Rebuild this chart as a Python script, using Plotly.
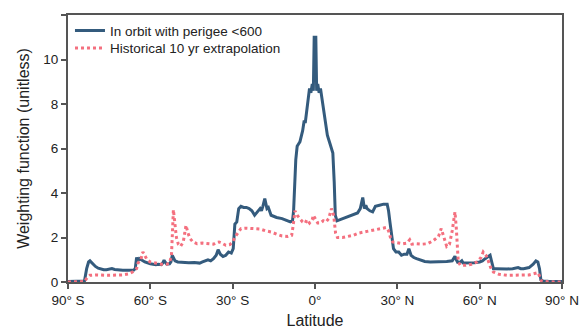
import plotly.graph_objects as go

# Blue: in orbit with perigee < 600
lat_orbit = [-90, -84.5, -84, -83.2, -82.5, -82, -81, -80, -79, -78, -77, -76, -75, -74.5, -74, -73, -72, -70, -68, -66,
             -65.5, -65, -64.5, -64, -63, -62, -60, -58, -57, -56, -55.5, -55, -54.5, -54, -53, -52.5, -52, -51.5, -51, -50,
             -48, -46, -44, -42, -41, -40, -39, -38, -37, -36, -35.3, -34.5, -33.5, -32.5, -31.5, -30.5, -29.8, -29.2, -28.5, -27.8,
             -27, -26, -25, -24, -23, -22, -21.5, -21, -20, -19.5, -19, -18.3, -17.5, -17, -16, -15, -14, -12, -10, -9,
             -8.2, -7.8, -7, -6.5, -6, -5.5, -4.5, -4, -3.5, -2.5, -2, -1.5, -1, -0.6, -0.3, 0.3, 0.6, 1, 1.5, 2,
             2.5, 3.5, 4, 4.5, 5.5, 6, 6.5, 7, 7.4, 8, 9, 10, 12, 14, 15.5, 16.5, 17.4, 18, 18.5, 19,
             20, 21, 22, 23.5, 25, 26.3, 26.8, 27.3, 28, 28.6, 29.5, 30.5, 31.5, 32.5, 33.5, 34.2, 35, 36, 37, 38,
             40, 42, 44, 46, 48, 50, 51, 51.5, 52, 53, 53.5, 54, 55, 56, 57, 58, 60, 61, 62, 63,
             63.8, 64.5, 65, 66, 68, 70, 72, 73, 74, 75, 76, 78, 79.5, 80.5, 81.2, 81.8, 82.3, 83, 85, 90]
val_orbit = [0.02, 0.03, 0.05, 0.6, 0.9, 0.95, 0.8, 0.7, 0.62, 0.58, 0.55, 0.55, 0.58, 0.62, 0.6, 0.56, 0.54, 0.53, 0.53, 0.54,
             0.6, 1.1, 0.95, 1.05, 0.98, 0.9, 0.82, 0.78, 0.8, 0.78, 0.85, 0.98, 0.88, 0.8, 0.82, 0.9, 1.2, 1.1, 0.95, 0.9,
             0.88, 0.87, 0.88, 0.85, 0.9, 0.95, 1.0, 0.95, 1.05, 1.2, 1.45, 1.25, 1.15, 1.2, 1.35, 1.3, 1.5, 2.6, 2.7, 3.3,
             3.4, 3.35, 3.35, 3.3, 3.2, 3.0, 3.1, 3.15, 3.3, 3.2, 3.4, 3.75, 3.3, 3.35, 3.0, 2.95, 2.9, 2.85, 2.75, 2.7,
             2.75, 3.2, 5.5, 6.1, 6.2, 6.3, 6.8, 7.2, 7.2, 8.2, 8.7, 8.5, 8.9, 8.6, 11.0, 11.0, 8.6, 8.9, 8.5, 8.7,
             8.3, 7.3, 7.1, 6.6, 6.2, 6.0, 5.8, 4.5, 3.0, 2.75, 2.8, 2.85, 2.95, 3.05, 3.1, 3.3, 3.8, 3.3, 3.45, 3.3,
             3.2, 3.15, 3.4, 3.45, 3.5, 3.5, 3.2, 2.7, 2.0, 1.5, 1.35, 1.35, 1.2, 1.25, 1.25, 1.5, 1.2, 1.1, 1.05, 1.0,
             0.92, 0.9, 0.9, 0.92, 0.92, 0.95, 1.15, 1.0, 0.88, 0.9, 0.95, 0.85, 0.85, 0.88, 0.85, 0.87, 0.9, 0.95, 1.05, 1.15,
             1.2, 0.85, 0.6, 0.6, 0.58, 0.58, 0.6, 0.62, 0.65, 0.6, 0.6, 0.65, 0.8, 0.95, 0.9, 0.6, 0.1, 0.05, 0.03, 0.02]

# Red dotted: historical 10 yr extrapolation
lat_hist = [-90, -84, -83, -82, -80, -75, -70, -68, -66.5, -65, -64.5, -63.5, -62.7, -62, -61.2, -60, -58, -56, -54, -53,
            -52.3, -52, -51.6, -51.2, -50.5, -49.8, -49, -48, -47, -46.3, -45.5, -44.5, -43, -41, -39, -37, -36, -35, -34, -32.5,
            -31, -30, -29, -28, -27, -25, -22, -20, -18, -16, -14, -12, -10, -8.5, -8, -7.3, -6.5, -5.5, -4.5, -3.5,
            -3, -2, -1, -0.6, 0, 1, 2, 3, 4, 5, 6, 6.8, 7.5, 8.2, 10, 12, 14, 16, 18, 20,
            22, 24, 26, 26.8, 27.5, 28.3, 30, 32, 33.5, 34.5, 35.3, 37, 39, 41, 43, 45, 46, 47, 48, 49,
            50, 51, 51.5, 52.2, 53, 55, 57, 59, 60.5, 61.3, 62.3, 63, 64, 65, 67, 70, 74, 78, 80, 81.3,
            82, 82.6, 85, 90]
val_hist = [0.0, 0.02, 0.2, 0.3, 0.32, 0.3, 0.32, 0.36, 0.45, 0.6, 0.85, 1.0, 1.35, 1.2, 1.0, 0.9, 0.85, 0.8, 0.8, 0.85,
            1.2, 2.3, 3.25, 2.8, 2.0, 1.7, 1.6, 1.8, 2.55, 2.2, 1.95, 1.8, 1.72, 1.75, 1.72, 1.7, 1.78, 1.8, 1.75, 1.65,
            1.68, 1.8, 2.05, 2.25, 2.4, 2.42, 2.4, 2.38, 2.3, 2.25, 2.15, 2.07, 2.05, 2.1, 2.5, 3.2, 3.0, 2.85, 2.7, 2.65,
            2.8, 2.65, 2.8, 3.0, 2.85, 2.65, 2.65, 2.75, 2.7, 2.85, 3.3, 3.0, 2.2, 2.0, 2.0, 2.05, 2.1, 2.2, 2.25, 2.3,
            2.38, 2.4, 2.45, 2.3, 2.0, 1.8, 1.75, 1.72, 1.75, 1.9, 1.7, 1.72, 1.7, 1.72, 1.85, 2.05, 2.4, 2.0, 1.6, 1.7,
            2.3, 3.15, 2.4, 0.9, 0.75, 0.75, 0.8, 0.9, 1.1, 1.35, 1.2, 1.0, 0.65, 0.45, 0.35, 0.3, 0.32, 0.32, 0.38, 0.42,
            0.2, 0.03, 0.01, 0.0]

tick_vals = [-90, -60, -30, 0, 30, 60, 90]
tick_text = ["90° S", "60° S", "30° S", "0°", "30° N", "60° N", "90° N"]
y_ticks = [0, 2, 4, 6, 8, 10, 12]

font = "Liberation Sans, Arial, sans-serif"

fig = go.Figure()
fig.add_trace(go.Scatter(x=lat_orbit, y=val_orbit, mode="lines", name="In orbit with perigee <600",
                         line=dict(color="#345b7d", width=3), legend="legend"))
fig.add_trace(go.Scatter(x=lat_hist, y=val_hist, mode="lines", name="Historical 10 yr extrapolation",
                         line=dict(color="#f4707f", width=3, dash="dot"), legend="legend2"))

leg_common = dict(xanchor="left", yanchor="top", bgcolor="rgba(0,0,0,0)", font=dict(size=13.5), itemwidth=30)

# The page body has an 8px default margin, so the figure is 8px smaller and the margins shifted.
fig.update_layout(
    width=579, height=321,
    margin=dict(l=60, r=25, t=7, b=47),
    paper_bgcolor="white", plot_bgcolor="white",
    font=dict(family=font, size=13.5, color="#222"),
    showlegend=True,
    legend=dict(x=0.004, y=0.999, **leg_common),
    legend2=dict(x=0.004, y=0.934, **leg_common),
    xaxis=dict(range=[-90, 90], tickvals=tick_vals, ticktext=tick_text, showgrid=False, zeroline=False,
               showline=True, linecolor="#555", linewidth=2, mirror=True, ticks="outside", ticklen=5,
               tickcolor="#555", tickwidth=1.5, automargin=False,
               title=dict(text="Latitude", standoff=10)),
    yaxis=dict(range=[0, 12], tickvals=y_ticks, showgrid=False, zeroline=False,
               showline=True, linecolor="#555", linewidth=2, mirror=True, ticks="outside", ticklen=5,
               tickcolor="#555", tickwidth=1.5, automargin=False,
               title=dict(text="Weighting function (unitless)", standoff=10)),
)

fig.write_html("out.html")
